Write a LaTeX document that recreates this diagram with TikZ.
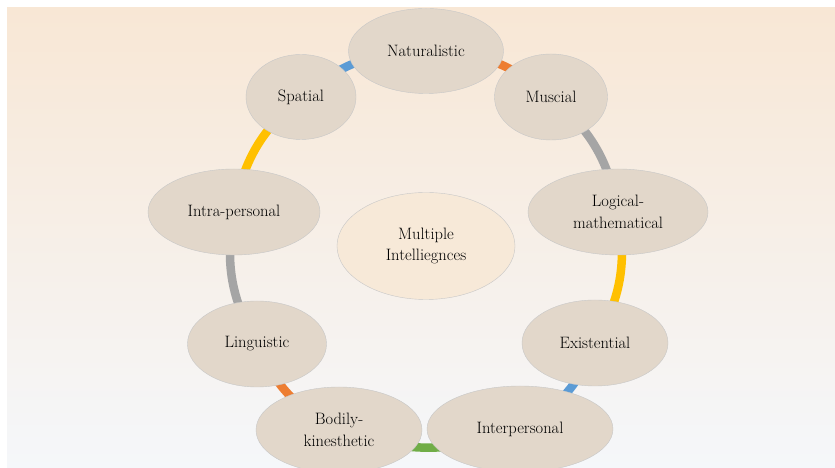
\documentclass[tikz,border=0pt]{standalone}
\usetikzlibrary{shapes.geometric, backgrounds}
\definecolor{BackgroundTop}{RGB}{248,231,213}
\definecolor{BackgroundBottom}{RGB}{245,247,250}
\definecolor{FilledEllipse}{RGB}{226,215,202}
\definecolor{FilledCenter}{RGB}{247,233,216}
\definecolor{RingOrange}{RGB}{237,125,49}
\definecolor{RingGray}{RGB}{165,165,165}
\definecolor{RingYellow}{RGB}{255,192,0}
\definecolor{RingBlue}{RGB}{91,155,213}
\definecolor{RingGreen}{RGB}{112,173,71}

\tikzset{
  intelligence/.style={ellipse, fill=FilledEllipse, draw=black!22, line width=0.4pt,
    inner sep=0pt, align=center, text=black, font=\fontsize{16.5}{21.5}\selectfont},
  ring/.style={line width=8.5pt, bend left=20},
}

\begin{document}
\begin{tikzpicture}[x=1pt, y=1pt]

\useasboundingbox (0,0) rectangle (835,468);

% Elipses de cada inteligencia, en el sentido de las agujas del reloj.
\node[intelligence, minimum width=155, minimum height=85] (Naturalistic) at (426,417) {Naturalistic};
\node[intelligence, minimum width=113, minimum height=86] (Muscial) at (551,371) {Muscial};
\node[intelligence, minimum width=180, minimum height=86] (Logical) at (618,256) {Logical-\\mathematical};
\node[intelligence, minimum width=146, minimum height=86] (Existential) at (595,125) {Existential};
\node[intelligence, minimum width=186, minimum height=86] (Interpersonal) at (520,39) {Interpersonal};
\node[intelligence, minimum width=166, minimum height=86] (Bodily) at (339,38) {Bodily-\\kinesthetic};
\node[intelligence, minimum width=139, minimum height=86] (Linguistic) at (257,124) {Linguistic};
\node[intelligence, minimum width=172, minimum height=86] (Intra) at (234,256) {Intra-personal};
\node[intelligence, minimum width=110, minimum height=85] (Spatial) at (301,371) {Spatial};

% Elipse central.
\node[intelligence, fill=FilledCenter, minimum width=178, minimum height=107] (Multiple) at (426,222) {Multiple\\Intelliegnces};

% Fondo y anillo de colores, por debajo de las elipses.
\begin{scope}[on background layer]
\shade[top color=BackgroundTop, bottom color=BackgroundBottom] (7,0) rectangle (835,460);
\draw[ring, RingOrange] (Naturalistic.center) to (Muscial.center);
\draw[ring, RingGray] (Muscial.center) to (Logical.center);
\draw[ring, RingYellow] (Logical.center) to (Existential.center);
\draw[ring, RingBlue] (Existential.center) to (Interpersonal.center);
\draw[ring, RingGreen] (Interpersonal.center) to (Bodily.center);
\draw[ring, RingOrange] (Bodily.center) to (Linguistic.center);
\draw[ring, RingGray] (Linguistic.center) to (Intra.center);
\draw[ring, RingYellow] (Intra.center) to (Spatial.center);
\draw[ring, RingBlue] (Spatial.center) to (Naturalistic.center);
\end{scope}

\end{tikzpicture}
\end{document}
